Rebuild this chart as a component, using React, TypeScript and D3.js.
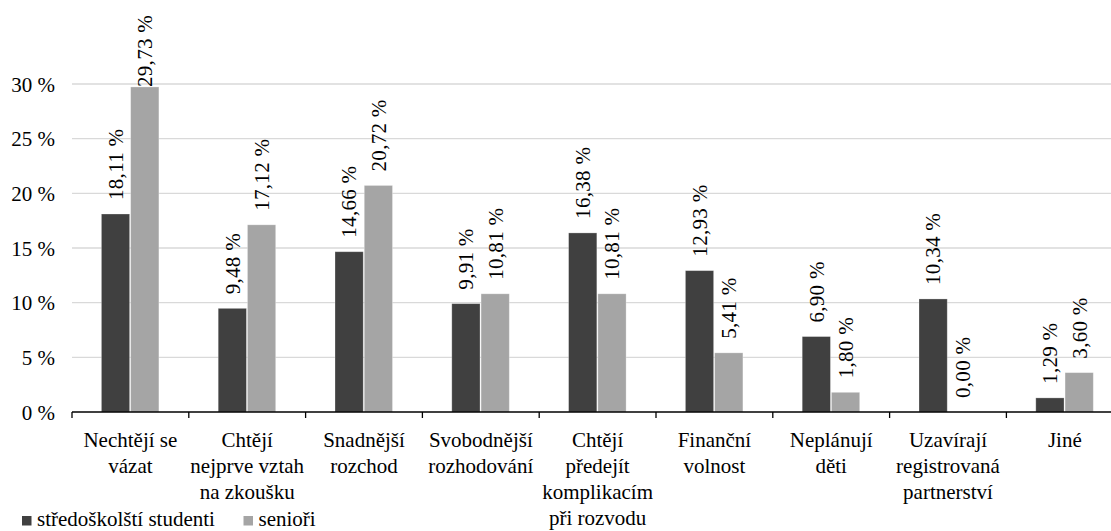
import React from "react";
import * as d3 from "d3";

const categories: string[] = [
  "Nechtějí se\nvázat",
  "Chtějí\nnejprve vztah\nna zkoušku",
  "Snadnější\nrozchod",
  "Svobodnější\nrozhodování",
  "Chtějí\npředejít\nkomplikacím\npři rozvodu",
  "Finanční\nvolnost",
  "Neplánují\nděti",
  "Uzavírají\nregistrovaná\npartnerství",
  "Jiné",
];
const seriesNames: string[] = ["středoškolští studenti", "senioři"];
const students: number[] = [18.11, 9.48, 14.66, 9.91, 16.38, 12.93, 6.9, 10.34, 1.29];
const seniors: number[] = [29.73, 17.12, 20.72, 10.81, 10.81, 5.41, 1.8, 0.0, 3.6];
const yTicks: number[] = [0, 5, 10, 15, 20, 25, 30];
const colors: string[] = ["#404040", "#a5a5a5"];

const W = 1111;
const H = 531;
const FS = 21;

export default function App() {
  const left = 72;
  const step = 116.8;
  const right = left + step * categories.length;
  const x = d3.scaleBand<number>().domain(d3.range(categories.length)).range([left, right]).padding(0);
  const y = d3.scaleLinear().domain([0, 30]).range([412, 84]);
  const values = [students, seniors];
  const fmt = (v: number) => v.toFixed(2).replace(".", ",") + " %";

  return (
    <svg width={W} height={H} className="chart" style={{ position: "absolute", left: 0, top: 0, background: "#fff" }}>
      <style>{`.chart text { font-family: "Liberation Serif"; font-size: ${FS}px; fill: #000; }`}</style>
      {yTicks.map((t) => (
        <g key={t}>
          {t > 0 && <line x1={left} x2={right} y1={y(t)} y2={y(t)} stroke="#d9d9d9" strokeWidth={1.3} />}
          <text x={55} y={y(t)} dy="0.36em" textAnchor="end">
            {t} %
          </text>
        </g>
      ))}
      {categories.map((c, i) => {
        const cx = (x(i) as number) + x.bandwidth() / 2;
        const inner = d3.scaleBand<number>().domain([0, 1]).range([cx - 29, cx + 28.5]).paddingInner(0.035);
        return (
          <g key={i}>
            {values.map((arr, s) => {
              const v = arr[i];
              const bx = inner(s) as number;
              const bw = inner.bandwidth();
              const top = y(v);
              const labelBase = Math.max(top - 14, 87);
              return (
                <g key={s}>
                  {v > 0 && (
                    <rect x={bx} y={top} width={bw} height={y(0) - top} fill={colors[s]} stroke="#ffffff" strokeOpacity={0.35} strokeWidth={0.8} />
                  )}
                  <text
                    transform={`translate(${bx + bw / 2},${labelBase}) rotate(-90)`}
                    dy="0.35em"
                    letterSpacing={0.3}
                  >
                    {fmt(v)}
                  </text>
                </g>
              );
            })}
            <text textAnchor="middle">
              {c.split("\n").map((line, k) => (
                <tspan key={k} x={cx} y={446.5 + k * 26}>
                  {line}
                </tspan>
              ))}
            </text>
          </g>
        );
      })}
      <line x1={left} x2={right} y1={y(0)} y2={y(0)} stroke="#000" strokeWidth={1.6} />
      {d3.range(categories.length + 1).map((k) => (
        <line key={k} x1={left + k * step} x2={left + k * step} y1={y(0)} y2={y(0) + 6} stroke="#000" strokeWidth={1.3} />
      ))}
      {seriesNames.map((n, s) => {
        const lx = s === 0 ? 22 : 243.5;
        return (
          <g key={n}>
            <rect x={lx} y={516} width={9.5} height={9.5} fill={colors[s]} />
            <text x={lx + 15} y={526}>
              {n}
            </text>
          </g>
        );
      })}
    </svg>
  );
}
